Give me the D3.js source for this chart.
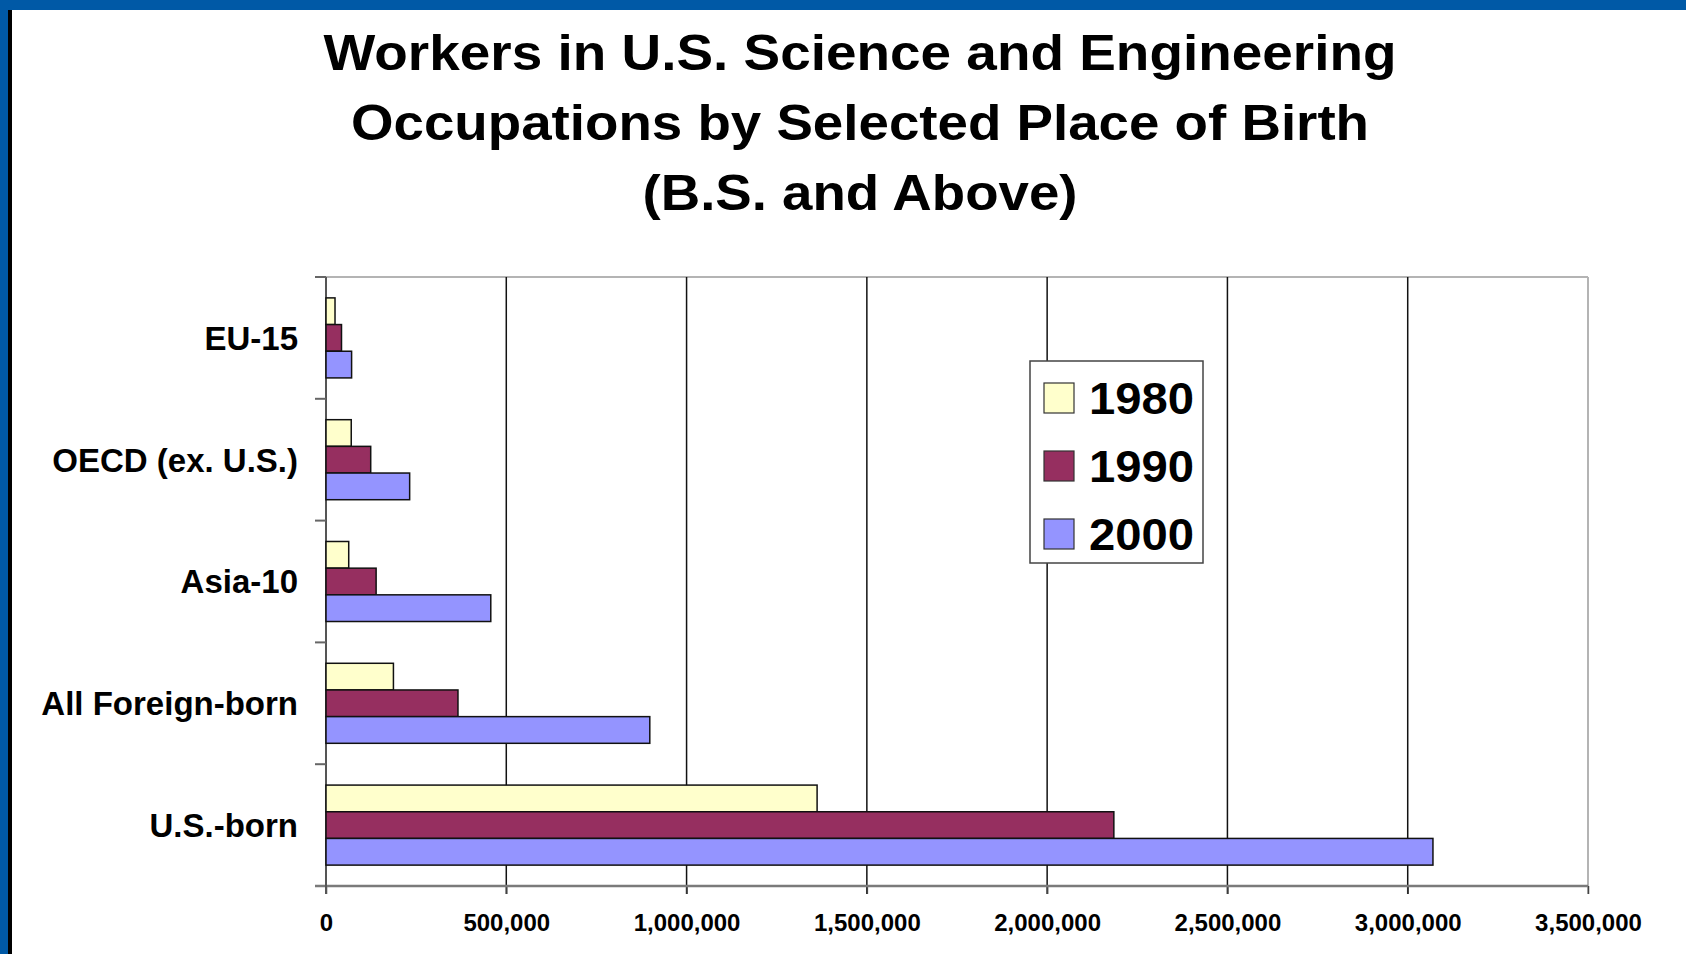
<!DOCTYPE html>
<html>
<head>
<meta charset="utf-8">
<script src="https://cdn.jsdelivr.net/npm/d3@7"></script>
<style>
  body { margin: 0; background: #fff; }
  svg { display: block; font-family: "Liberation Sans", Arial, sans-serif; }
</style>
</head>
<body>
<svg width="1686" height="954"></svg>
<script>
var categories = ["EU-15", "OECD (ex. U.S.)", "Asia-10", "All Foreign-born", "U.S.-born"];
var years = ["1980", "1990", "2000"];
var values1980 = [25000, 70000, 63000, 187000, 1362000];
var values1990 = [43000, 124000, 139000, 366000, 2185000];
var values2000 = [71000, 232000, 457000, 898000, 3070000];
var xTicks = [0, 500000, 1000000, 1500000, 2000000, 2500000, 3000000, 3500000];
var titleLines = ["Workers in U.S. Science and Engineering",
                  "Occupations by Selected Place of Birth",
                  "(B.S. and Above)"];

var seriesColors = ["#ffffcc", "#962f60", "#9494ff"];

var svg = d3.select("svg"),
    width = +svg.attr("width"),
    height = +svg.attr("height");

var plot = { left: 326, right: 1588, top: 277, bottom: 886 };

// frame of the slide
svg.append("rect").attr("x", 0).attr("y", 0).attr("width", width).attr("height", 10).attr("fill", "#0059a6");
svg.append("rect").attr("x", 0).attr("y", 0).attr("width", 8).attr("height", height).attr("fill", "#0059a6");
svg.append("rect").attr("x", 8).attr("y", 10).attr("width", 4).attr("height", height - 10).attr("fill", "#000");

// title
var titleWidths = [1073, 1018, 435];
svg.append("g").selectAll("text")
    .data(titleLines)
    .enter().append("text")
    .attr("x", 860)
    .attr("y", function (d, i) { return 70 + i * 70; })
    .attr("text-anchor", "middle")
    .attr("font-size", 50)
    .attr("font-weight", "bold")
    .attr("textLength", function (d, i) { return titleWidths[i]; })
    .attr("lengthAdjust", "spacingAndGlyphs")
    .text(function (d) { return d; });

var x = d3.scaleLinear()
    .domain([0, 3500000])
    .range([plot.left, plot.right]);

var y = d3.scaleBand()
    .domain(categories)
    .range([plot.top, plot.bottom])
    .paddingInner(0.343)
    .paddingOuter(0.1715);

var yInner = d3.scaleBand()
    .domain(years)
    .range([0, y.bandwidth()]);

var table = categories.map(function (c, i) {
    return { cat: c, vals: [values1980[i], values1990[i], values2000[i]] };
});

// plot frame top / right
svg.append("line")
    .attr("x1", plot.left).attr("x2", plot.right)
    .attr("y1", plot.top).attr("y2", plot.top)
    .attr("stroke", "#b4b4b4").attr("stroke-width", 2);
svg.append("line")
    .attr("x1", plot.right).attr("x2", plot.right)
    .attr("y1", plot.top).attr("y2", plot.bottom + 8)
    .attr("stroke", "#b4b4b4").attr("stroke-width", 2);

// vertical gridlines (they also make the ticks under the axis)
svg.append("g").selectAll("line")
    .data(xTicks.slice(1, -1))
    .enter().append("line")
    .attr("x1", function (d) { return x(d); })
    .attr("x2", function (d) { return x(d); })
    .attr("y1", plot.top)
    .attr("y2", plot.bottom + 8)
    .attr("stroke", "#111")
    .attr("stroke-width", 1.5);

// x axis
var xAxis = svg.append("g")
    .attr("transform", "translate(0," + plot.bottom + ")")
    .call(d3.axisBottom(x).tickValues(xTicks).tickFormat(d3.format(",")).tickSize(8).tickPadding(20));
xAxis.select(".domain").remove();
xAxis.selectAll(".tick line").attr("stroke", "#444").attr("stroke-width", 1.5);
xAxis.selectAll("text")
    .attr("font-size", 24)
    .attr("font-weight", "bold")
    .attr("font-family", "Liberation Sans, Arial, sans-serif")
    .attr("fill", "#000");

svg.append("line")
    .attr("x1", plot.left - 11).attr("x2", plot.right)
    .attr("y1", plot.bottom).attr("y2", plot.bottom)
    .attr("stroke", "#7a7a7a").attr("stroke-width", 2.5);

// category axis: ticks between groups
var step = y.step();
svg.append("line")
    .attr("x1", plot.left).attr("x2", plot.left)
    .attr("y1", plot.top).attr("y2", plot.bottom + 8)
    .attr("stroke", "#555").attr("stroke-width", 2);
svg.append("g").selectAll("line")
    .data(d3.range(categories.length))
    .enter().append("line")
    .attr("x1", plot.left - 11).attr("x2", plot.left)
    .attr("y1", function (d) { return y(categories[d]) - step * y.paddingInner() / 2; })
    .attr("y2", function (d) { return y(categories[d]) - step * y.paddingInner() / 2; })
    .attr("stroke", "#666").attr("stroke-width", 2);

svg.append("g").selectAll("text")
    .data(categories)
    .enter().append("text")
    .attr("x", 298)
    .attr("y", function (d) { return y(d) + y.bandwidth() / 2; })
    .attr("dy", "0.36em")
    .attr("text-anchor", "end")
    .attr("font-size", 33)
    .attr("font-weight", "bold")
    .text(function (d) { return d; });

// bars
var groups = svg.append("g").selectAll("g")
    .data(table)
    .enter().append("g")
    .attr("transform", function (d) { return "translate(0," + y(d.cat) + ")"; });

groups.selectAll("rect")
    .data(function (d) { return d.vals.map(function (v, i) { return { year: years[i], value: v, i: i }; }); })
    .enter().append("rect")
    .attr("x", x(0))
    .attr("y", function (d) { return yInner(d.year); })
    .attr("width", function (d) { return x(d.value) - x(0); })
    .attr("height", yInner.bandwidth())
    .attr("fill", function (d) { return seriesColors[d.i]; })
    .attr("stroke", "#111")
    .attr("stroke-width", 1.5);

// legend
var legend = svg.append("g").attr("transform", "translate(1030,361)");
legend.append("rect")
    .attr("width", 173).attr("height", 202)
    .attr("fill", "#fff")
    .attr("stroke", "#444").attr("stroke-width", 1.5);

var items = legend.selectAll("g.item")
    .data(years)
    .enter().append("g")
    .attr("class", "item")
    .attr("transform", function (d, i) { return "translate(14," + (22 + i * 68) + ")"; });

items.append("rect")
    .attr("width", 30).attr("height", 30)
    .attr("fill", function (d, i) { return seriesColors[i]; })
    .attr("stroke", "#333").attr("stroke-width", 1.2);

items.append("text")
    .attr("x", 45)
    .attr("y", 15)
    .attr("dy", "0.36em")
    .attr("font-size", 45)
    .attr("font-weight", "bold")
    .attr("textLength", 105)
    .attr("lengthAdjust", "spacingAndGlyphs")
    .text(function (d) { return d; });
</script>
</body>
</html>
